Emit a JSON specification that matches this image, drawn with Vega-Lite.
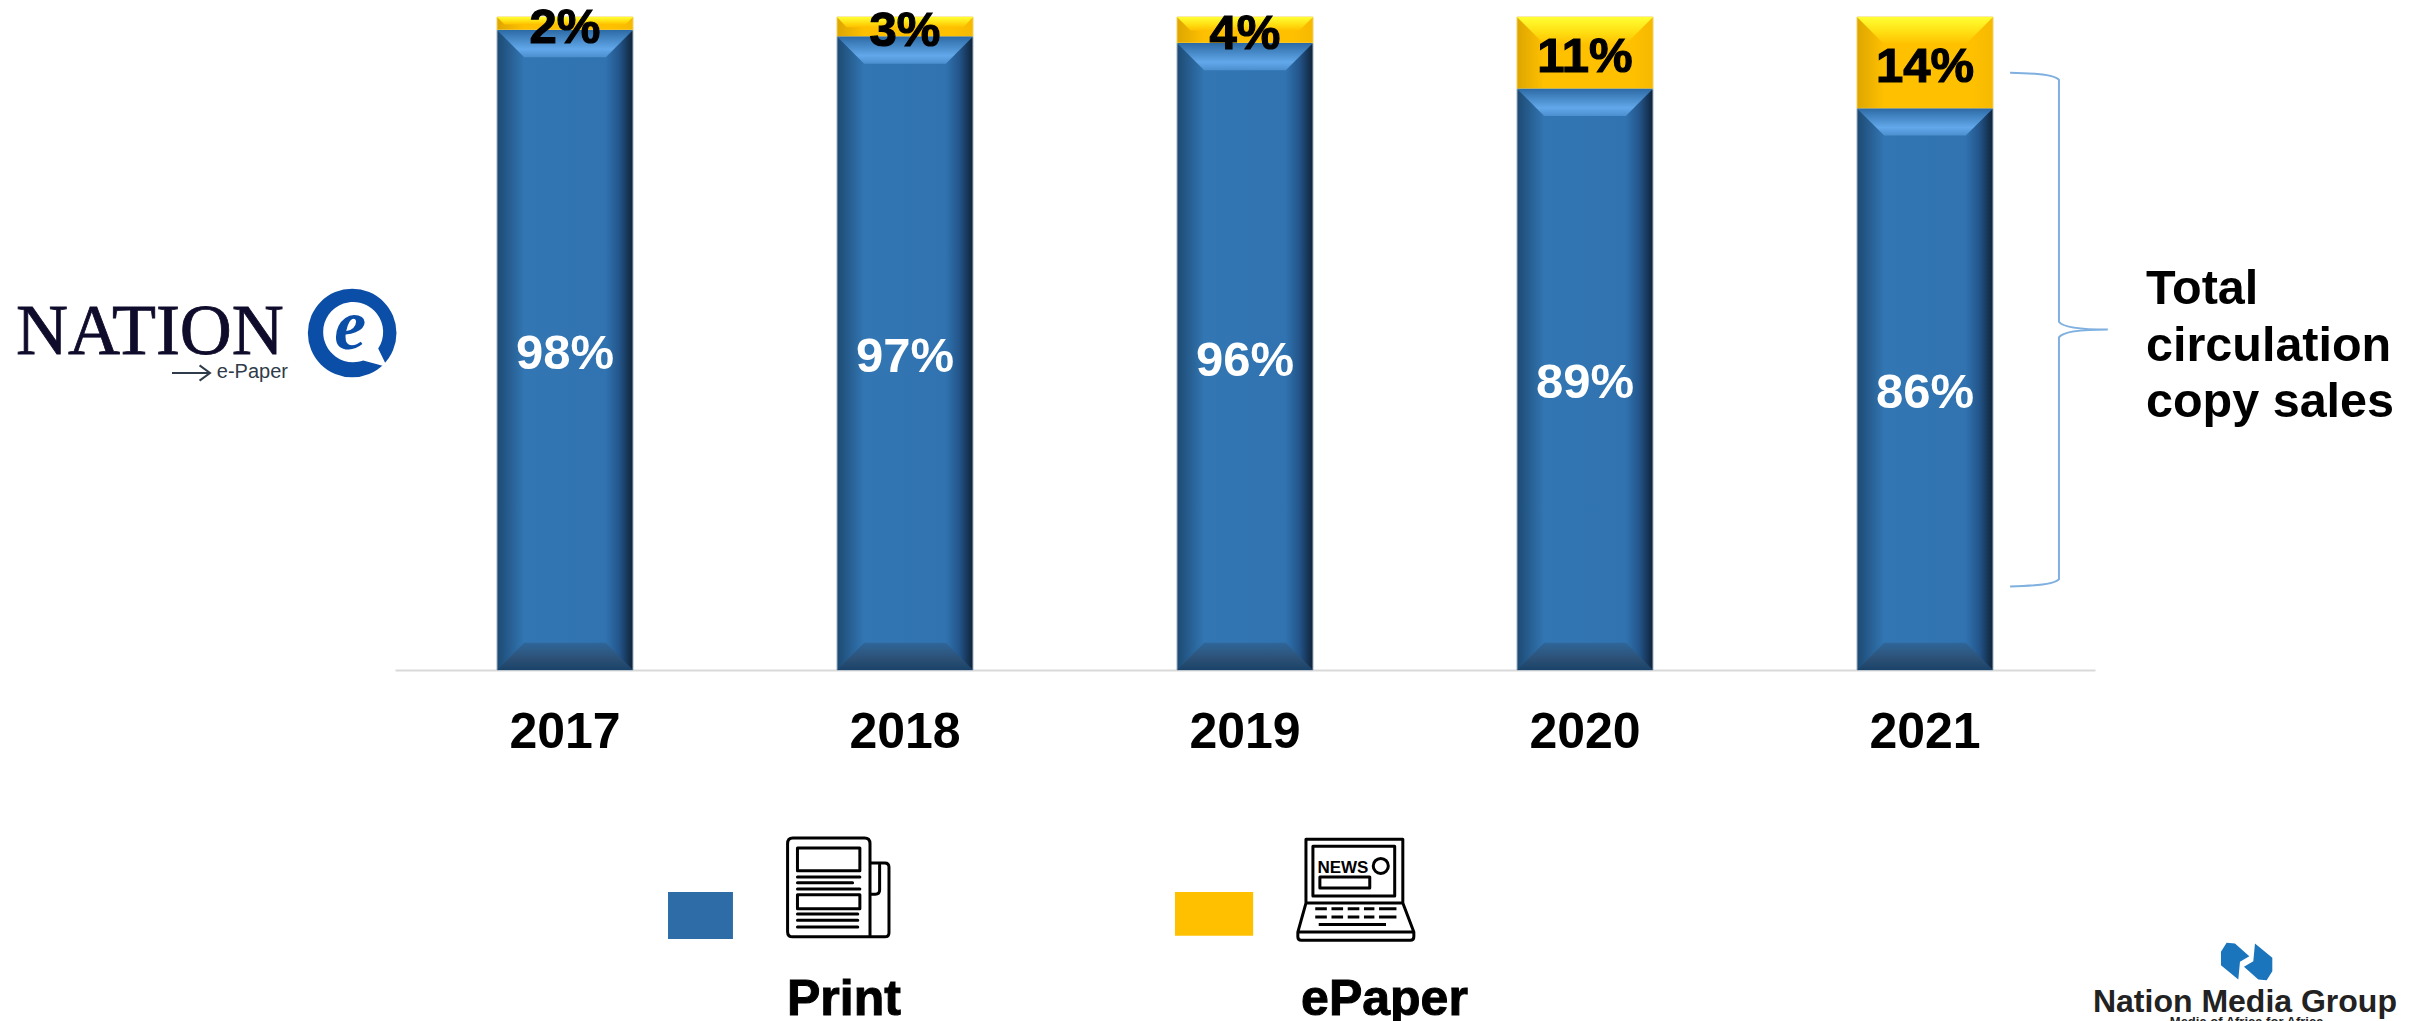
{
  "$schema": "https://vega.github.io/schema/vega-lite/v6.json",
  "width": 1700,
  "height": 653,
  "autosize": {"type": "none", "contains": "content"},
  "padding": {"left": 395, "top": 17, "right": 322, "bottom": 351},
  "background": "white",
  "config": {"view": {"stroke": null}, "font": "Liberation Sans"},
  "resolve": {"scale": {"x": "independent"}},
  "layer": [
    {
      "data": {"values": [
        {"year": 2017, "series": "Print", "value": 98, "label": "98%"},
        {"year": 2017, "series": "ePaper", "value": 2, "label": "2%"},
        {"year": 2018, "series": "Print", "value": 97, "label": "97%"},
        {"year": 2018, "series": "ePaper", "value": 3, "label": "3%"},
        {"year": 2019, "series": "Print", "value": 96, "label": "96%"},
        {"year": 2019, "series": "ePaper", "value": 4, "label": "4%"},
        {"year": 2020, "series": "Print", "value": 89, "label": "89%"},
        {"year": 2020, "series": "ePaper", "value": 11, "label": "11%"},
        {"year": 2021, "series": "Print", "value": 86, "label": "86%"},
        {"year": 2021, "series": "ePaper", "value": 14, "label": "14%"}
      ]},
      "transform": [
        {"stack": "value", "groupby": ["year"], "sort": [{"field": "series", "order": "ascending"}], "as": ["low", "high"]}
      ],
      "layer": [
        {
          "transform": [{"filter": "datum.series === 'Print'"}],
          "mark": {"type": "bar", "stroke": "#9FB1C2", "strokeWidth": 1,
            "fill": {"gradient": "linear", "x1": 0, "x2": 1, "y1": 0, "y2": 0, "stops": [
              {"offset": 0, "color": "#1D4A73"},
              {"offset": 0.2, "color": "#3276B3"},
              {"offset": 0.8, "color": "#3073B0"},
              {"offset": 0.9, "color": "#23558A"},
              {"offset": 1, "color": "#0F2238"}
            ]}},
          "encoding": {
            "x": {"field": "year", "type": "ordinal", "title": null,
              "scale": {"paddingInner": 0.6, "paddingOuter": 0.3},
              "axis": {"labelAngle": 0, "labelFontSize": 50, "labelFontWeight": "bold", "labelColor": "black", "labelFont": "Liberation Sans", "labelPadding": 37, "ticks": false, "grid": false, "domainColor": "#D9D9D9", "domainWidth": 2}},
            "y": {"field": "low", "type": "quantitative", "scale": {"domain": [0, 100]}, "axis": null},
            "y2": {"field": "high"}
          }
        },
        {
          "transform": [{"filter": "datum.series === 'ePaper'"}],
          "mark": {"type": "bar", "stroke": "#F2D060", "strokeWidth": 1,
            "fill": {"gradient": "linear", "x1": 0, "x2": 1, "y1": 0, "y2": 0, "stops": [
              {"offset": 0, "color": "#DDA600"},
              {"offset": 0.2, "color": "#FFC000"},
              {"offset": 0.85, "color": "#FFC000"},
              {"offset": 1, "color": "#F6B900"}
            ]}},
          "encoding": {
            "x": {"field": "year", "type": "ordinal", "scale": {"paddingInner": 0.6, "paddingOuter": 0.3}},
            "y": {"field": "low", "type": "quantitative", "scale": {"domain": [0, 100]}, "axis": null},
            "y2": {"field": "high"}
          }
        },
        {
          "transform": [{"filter": "datum.series === 'Print'"}],
          "mark": {"type": "point", "filled": true, "opacity": 1, "size": 18496,
            "shape": "M-1,0 L1,0 L0.6,0.4 L-0.6,0.4 Z",
            "fill": {"gradient": "linear", "x1": 0, "x2": 0, "y1": 0, "y2": 1, "stops": [
              {"offset": 0, "color": "#2C6AA5"},
              {"offset": 0.7, "color": "#62A8EA"},
              {"offset": 1, "color": "#4C8FCF"}
            ]}},
          "encoding": {
            "x": {"field": "year", "type": "ordinal", "scale": {"paddingInner": 0.6, "paddingOuter": 0.3}},
            "y": {"field": "high", "type": "quantitative", "scale": {"domain": [0, 100]}, "axis": null}
          }
        },
        {
          "transform": [{"filter": "datum.series === 'Print'"}],
          "mark": {"type": "point", "filled": true, "opacity": 1, "size": 18496,
            "shape": "M-1,0 L1,0 L0.6,-0.4 L-0.6,-0.4 Z",
            "fill": {"gradient": "linear", "x1": 0, "x2": 0, "y1": 0, "y2": 1, "stops": [
              {"offset": 0, "color": "#2F6699"},
              {"offset": 0.6, "color": "#2C5075"},
              {"offset": 1, "color": "#1A4268"}
            ]}},
          "encoding": {
            "x": {"field": "year", "type": "ordinal", "scale": {"paddingInner": 0.6, "paddingOuter": 0.3}},
            "y": {"field": "low", "type": "quantitative", "scale": {"domain": [0, 100]}, "axis": null}
          }
        },
        {
          "transform": [{"filter": "datum.series === 'ePaper'"}],
          "mark": {"type": "point", "filled": true, "opacity": 1, "size": 18496,
            "fill": {"gradient": "linear", "x1": 0, "x2": 0, "y1": 0, "y2": 1, "stops": [
              {"offset": 0, "color": "#FFFF33"},
              {"offset": 0.6, "color": "#FFDC10"},
              {"offset": 1, "color": "#FFC000"}
            ]}},
          "encoding": {
            "x": {"field": "year", "type": "ordinal", "scale": {"paddingInner": 0.6, "paddingOuter": 0.3}},
            "y": {"field": "high", "type": "quantitative", "scale": {"domain": [0, 100]}, "axis": null},
            "shape": {"field": "year", "type": "nominal", "legend": null, "scale": {
              "domain": [2017, 2018, 2019, 2020, 2021],
              "range": [
                "M-1,0 L1,0 L0.89,0.11 L-0.89,0.11 Z",
                "M-1,0 L1,0 L0.86,0.15 L-0.86,0.15 Z",
                "M-1,0 L1,0 L0.8,0.2 L-0.8,0.2 Z",
                "M-1,0 L1,0 L0.6,0.4 L-0.6,0.4 Z",
                "M-1,0 L1,0 L0.6,0.4 L-0.6,0.4 Z"
              ]}}
          }
        },
        {
          "mark": {"type": "text", "fontSize": 49, "fontWeight": "bold", "font": "Liberation Sans", "baseline": "middle", "dy": 4, "strokeWidth": 1.2},
          "encoding": {
            "x": {"field": "year", "type": "ordinal", "scale": {"paddingInner": 0.6, "paddingOuter": 0.3}},
            "y": {"field": "value", "type": "quantitative", "stack": "zero", "bandPosition": 0.5, "scale": {"domain": [0, 100]}, "axis": null},
            "order": {"field": "series", "sort": "ascending"},
            "detail": {"field": "series"},
            "text": {"field": "label"},
            "color": {"field": "series", "type": "nominal", "legend": null, "scale": {"domain": ["Print", "ePaper"], "range": ["white", "black"]}},
            "stroke": {"field": "series", "type": "nominal", "legend": null, "scale": {"domain": ["Print", "ePaper"], "range": ["transparent", "black"]}}
          }
        }
      ]
    },
    {
      "layer": [
        {
          "data": {"values": [{"series": "Print"}]},
          "mark": {"type": "rect", "color": "#2E6CA8"},
          "encoding": {
            "x": {"datum": 0.803, "type": "quantitative", "scale": {"domain": [0, 5]}, "axis": null},
            "x2": {"datum": 0.994},
            "y": {"datum": -34, "type": "quantitative", "scale": {"domain": [0, 100]}, "axis": null},
            "y2": {"datum": -41.2}
          }
        },
        {
          "data": {"values": [{"series": "ePaper"}]},
          "mark": {"type": "rect", "color": "#FFC000"},
          "encoding": {
            "x": {"datum": 2.294, "type": "quantitative", "scale": {"domain": [0, 5]}, "axis": null},
            "x2": {"datum": 2.524},
            "y": {"datum": -34, "type": "quantitative", "scale": {"domain": [0, 100]}, "axis": null},
            "y2": {"datum": -40.7}
          }
        },
        {
          "data": {"values": [{"icon": "newspaper"}]},
          "mark": {"type": "point", "filled": false, "opacity": 1, "size": 10816, "stroke": "black", "strokeWidth": 3, "strokeJoin": "round", "strokeCap": "round",
            "shape": "M-0.87,-0.96 L0.51,-0.96 Q0.615,-0.96 0.615,-0.85 L0.615,0.94 L-0.87,0.94 Q-0.97,0.94 -0.97,0.84 L-0.97,-0.85 Q-0.97,-0.96 -0.87,-0.96 Z M0.615,-0.48 L0.9,-0.48 Q0.98,-0.48 0.98,-0.4 L0.98,0.86 Q0.98,0.94 0.9,0.94 L0.615,0.94 M0.8,-0.44 L0.8,0.04 Q0.8,0.12 0.72,0.12 L0.615,0.12 M-0.78,-0.77 L0.42,-0.77 L0.42,-0.33 L-0.78,-0.33 Z M-0.78,-0.21 L0.42,-0.21 M-0.78,-0.1 L0.28,-0.1 M-0.78,0.02 L0.42,0.02 M-0.78,0.13 L0.42,0.13 L0.42,0.4 L-0.78,0.4 Z M-0.78,0.5 L0.38,0.5 M-0.78,0.62 L0.38,0.62 M-0.78,0.75 L0.38,0.75"},
          "encoding": {
            "x": {"datum": 1.303, "type": "quantitative", "scale": {"domain": [0, 5]}, "axis": null},
            "y": {"datum": -33.38, "type": "quantitative", "scale": {"domain": [0, 100]}, "axis": null}
          }
        },
        {
          "data": {"values": [{"icon": "laptop"}]},
          "mark": {"type": "point", "filled": false, "opacity": 1, "size": 13456, "stroke": "black", "strokeWidth": 3, "strokeJoin": "round",
            "shape": "M-0.86,0.26 L-0.86,-0.84 L0.81,-0.84 L0.81,0.26 M-0.74,-0.72 L0.67,-0.72 L0.67,0.14 L-0.74,0.14 Z M-0.86,0.26 L0.81,0.26 L1,0.76 L-1,0.76 Z M-1,0.76 L-1,0.84 Q-1,0.9 -0.94,0.9 L0.94,0.9 Q1,0.9 1,0.84 L1,0.76 M-0.62,-0.19 L0.24,-0.19 L0.24,0 L-0.62,0 Z M0.56,-0.38 A0.13,0.13 0 1 1 0.3,-0.38 A0.13,0.13 0 1 1 0.56,-0.38 Z M-0.7,0.36 L-0.5,0.36 M-0.42,0.36 L-0.22,0.36 M-0.14,0.36 L0.06,0.36 M0.14,0.36 L0.32,0.36 M0.4,0.36 L0.7,0.36 M-0.7,0.5 L-0.5,0.5 M-0.42,0.5 L-0.22,0.5 M-0.14,0.5 L0.06,0.5 M0.14,0.5 L0.32,0.5 M0.4,0.5 L0.7,0.5 M-0.64,0.63 L0.52,0.63"},
          "encoding": {
            "x": {"datum": 2.826, "type": "quantitative", "scale": {"domain": [0, 5]}, "axis": null},
            "y": {"datum": -33.38, "type": "quantitative", "scale": {"domain": [0, 100]}, "axis": null}
          }
        },
        {
          "data": {"values": [{"label": "NEWS"}]},
          "mark": {"type": "text", "fontSize": 17, "fontWeight": "bold", "font": "Liberation Sans", "color": "black", "align": "center", "baseline": "alphabetic"},
          "encoding": {
            "x": {"datum": 2.788, "type": "quantitative", "scale": {"domain": [0, 5]}, "axis": null},
            "y": {"datum": -31.09, "type": "quantitative", "scale": {"domain": [0, 100]}, "axis": null},
            "text": {"field": "label"}
          }
        },
        {
          "data": {"values": [{"label": "Print"}]},
          "mark": {"type": "text", "fontSize": 50, "fontWeight": "bold", "font": "Liberation Sans", "color": "black", "stroke": "black", "strokeWidth": 1, "align": "left", "baseline": "alphabetic"},
          "encoding": {
            "x": {"datum": 1.153, "type": "quantitative", "scale": {"domain": [0, 5]}, "axis": null},
            "y": {"datum": -52.83, "type": "quantitative", "scale": {"domain": [0, 100]}, "axis": null},
            "text": {"field": "label"}
          }
        },
        {
          "data": {"values": [{"label": "ePaper"}]},
          "mark": {"type": "text", "fontSize": 50, "fontWeight": "bold", "font": "Liberation Sans", "color": "black", "stroke": "black", "strokeWidth": 1, "align": "left", "baseline": "alphabetic"},
          "encoding": {
            "x": {"datum": 2.665, "type": "quantitative", "scale": {"domain": [0, 5]}, "axis": null},
            "y": {"datum": -52.83, "type": "quantitative", "scale": {"domain": [0, 100]}, "axis": null},
            "text": {"field": "label"}
          }
        },
        {
          "data": {"values": [{"note": "brace"}]},
          "mark": {"type": "point", "filled": false, "opacity": 1, "size": 270400, "stroke": "#7FB0E0", "strokeWidth": 2,
            "shape": "M-0.188,-0.988 Q-0.02,-0.985 0,-0.96 L0,-0.03 Q0.02,0 0.188,0 Q0.02,0 0,0.03 L0,0.96 Q-0.02,0.985 -0.188,0.988"},
          "encoding": {
            "x": {"datum": 4.894, "type": "quantitative", "scale": {"domain": [0, 5]}, "axis": null},
            "y": {"datum": 52.14, "type": "quantitative", "scale": {"domain": [0, 100]}, "axis": null}
          }
        },
        {
          "data": {"values": [{"label": ["Total", "circulation", "copy sales"]}]},
          "mark": {"type": "text", "fontSize": 48.5, "fontWeight": "bold", "font": "Liberation Sans", "color": "black", "align": "left", "baseline": "alphabetic", "lineHeight": 56.5},
          "encoding": {
            "x": {"datum": 5.15, "type": "quantitative", "scale": {"domain": [0, 5]}, "axis": null},
            "y": {"datum": 56.0, "type": "quantitative", "scale": {"domain": [0, 100]}, "axis": null},
            "text": {"field": "label"}
          }
        },
        {
          "data": {"values": [{"label": "NATION"}]},
          "mark": {"type": "text", "fontSize": 72, "font": "Liberation Serif", "color": "#0E0B2B", "stroke": "#0E0B2B", "strokeWidth": 0.8, "align": "left", "baseline": "alphabetic"},
          "encoding": {
            "x": {"datum": -1.115, "type": "quantitative", "scale": {"domain": [0, 5]}, "axis": null},
            "y": {"datum": 48.39, "type": "quantitative", "scale": {"domain": [0, 100]}, "axis": null},
            "text": {"field": "label"}
          }
        },
        {
          "data": {"values": [{"label": "e-Paper"}]},
          "mark": {"type": "text", "fontSize": 20, "font": "Liberation Sans", "color": "#2F3B4A", "align": "left", "baseline": "alphabetic"},
          "encoding": {
            "x": {"datum": -0.524, "type": "quantitative", "scale": {"domain": [0, 5]}, "axis": null},
            "y": {"datum": 44.72, "type": "quantitative", "scale": {"domain": [0, 100]}, "axis": null},
            "text": {"field": "label"}
          }
        },
        {
          "data": {"values": [{"logo": "arrow"}]},
          "mark": {"type": "point", "filled": false, "opacity": 1, "size": 1444, "stroke": "#2F3B4A", "strokeWidth": 2,
            "shape": "M-1,0 L1,0 M0.45,-0.4 L1,0 L0.45,0.4"},
          "encoding": {
            "x": {"datum": -0.6, "type": "quantitative", "scale": {"domain": [0, 5]}, "axis": null},
            "y": {"datum": 45.48, "type": "quantitative", "scale": {"domain": [0, 100]}, "axis": null}
          }
        },
        {
          "data": {"values": [{"logo": "disc"}]},
          "mark": {"type": "point", "filled": true, "opacity": 1, "size": 7854, "shape": "circle", "color": "#0B4EA8"},
          "encoding": {
            "x": {"datum": -0.126, "type": "quantitative", "scale": {"domain": [0, 5]}, "axis": null},
            "y": {"datum": 51.6, "type": "quantitative", "scale": {"domain": [0, 100]}, "axis": null}
          }
        },
        {
          "data": {"values": [{"logo": "bubble"}]},
          "mark": {"type": "point", "filled": true, "opacity": 1, "size": 10000, "color": "white",
            "shape": "M-0.6,0 A0.6,0.6 0 1 1 0.5,0.33 L0.68,0.7 L0.2,0.57 A0.6,0.6 0 0 1 -0.6,0 Z"},
          "encoding": {
            "x": {"datum": -0.123, "type": "quantitative", "scale": {"domain": [0, 5]}, "axis": null},
            "y": {"datum": 51.75, "type": "quantitative", "scale": {"domain": [0, 100]}, "axis": null}
          }
        },
        {
          "data": {"values": [{"label": "e"}]},
          "mark": {"type": "text", "fontSize": 72, "fontStyle": "italic", "fontWeight": "bold", "font": "Liberation Serif", "color": "#0B4EA8", "align": "center", "baseline": "middle"},
          "encoding": {
            "x": {"datum": -0.132, "type": "quantitative", "scale": {"domain": [0, 5]}, "axis": null},
            "y": {"datum": 52.5, "type": "quantitative", "scale": {"domain": [0, 100]}, "axis": null},
            "text": {"field": "label"}
          }
        },
        {
          "data": {"values": [{"logo": "group mark"}]},
          "mark": {"type": "point", "filled": true, "opacity": 1, "size": 3600, "color": "#1B75BC",
            "shape": "M-0.856,-0.322 L-0.667,-0.622 L-0.389,-0.6 L0.089,-0.178 L-0.222,0.011 L-0.278,0.6 L-0.856,0.122 Z M0.856,0.322 L0.667,0.622 L0.389,0.6 L-0.089,0.178 L0.222,-0.011 L0.278,-0.6 L0.856,-0.122 Z"},
          "encoding": {
            "x": {"datum": 5.446, "type": "quantitative", "scale": {"domain": [0, 5]}, "axis": null},
            "y": {"datum": -44.64, "type": "quantitative", "scale": {"domain": [0, 100]}, "axis": null}
          }
        },
        {
          "data": {"values": [{"label": "Nation Media Group"}]},
          "mark": {"type": "text", "fontSize": 32, "fontWeight": "bold", "font": "Liberation Sans", "color": "#222222", "align": "left", "baseline": "alphabetic"},
          "encoding": {
            "x": {"datum": 4.994, "type": "quantitative", "scale": {"domain": [0, 5]}, "axis": null},
            "y": {"datum": -52.37, "type": "quantitative", "scale": {"domain": [0, 100]}, "axis": null},
            "text": {"field": "label"}
          }
        },
        {
          "data": {"values": [{"label": "Media of Africa for Africa"}]},
          "mark": {"type": "text", "fontSize": 13, "fontWeight": "bold", "font": "Liberation Sans", "color": "#222222", "align": "left", "baseline": "alphabetic"},
          "encoding": {
            "x": {"datum": 5.22, "type": "quantitative", "scale": {"domain": [0, 5]}, "axis": null},
            "y": {"datum": -54.5, "type": "quantitative", "scale": {"domain": [0, 100]}, "axis": null},
            "text": {"field": "label"}
          }
        }
      ]
    }
  ]
}
